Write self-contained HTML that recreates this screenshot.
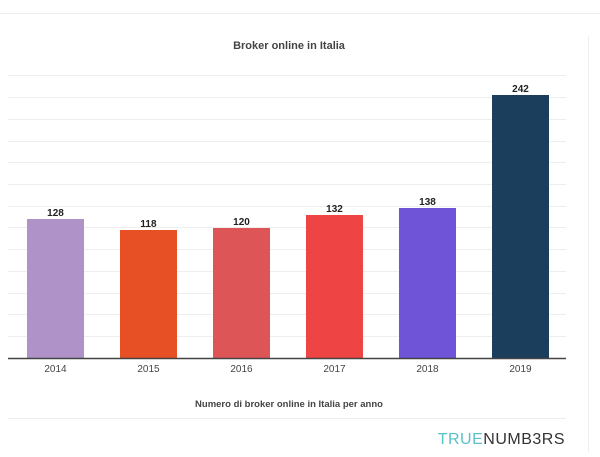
<!DOCTYPE html><html><head><style>body{margin:0;background:#fff;width:600px;height:452px;overflow:hidden;font-family:"Liberation Sans",sans-serif}</style></head><body>
<svg width="600" height="452" xmlns="http://www.w3.org/2000/svg" font-family="Liberation Sans, sans-serif">
<line x1="0" y1="13.5" x2="600" y2="13.5" stroke="#eee"/>
<line x1="588.5" y1="36" x2="588.5" y2="452" stroke="#eee"/>
<text x="289" y="49" text-anchor="middle" font-size="11" font-weight="bold" fill="#444">Broker online in Italia</text>
<g stroke="#eee">
<line x1="8" x2="566" y1="75.5" y2="75.5"/><line x1="8" x2="566" y1="97.5" y2="97.5"/><line x1="8" x2="566" y1="119.5" y2="119.5"/><line x1="8" x2="566" y1="141.5" y2="141.5"/><line x1="8" x2="566" y1="162.5" y2="162.5"/><line x1="8" x2="566" y1="184.5" y2="184.5"/><line x1="8" x2="566" y1="206.5" y2="206.5"/><line x1="8" x2="566" y1="227.5" y2="227.5"/><line x1="8" x2="566" y1="249.5" y2="249.5"/><line x1="8" x2="566" y1="271.5" y2="271.5"/><line x1="8" x2="566" y1="293.5" y2="293.5"/><line x1="8" x2="566" y1="314.5" y2="314.5"/><line x1="8" x2="566" y1="336.5" y2="336.5"/>
</g>
<rect x="27" y="219" width="57" height="139" fill="#af93c8"/>
<rect x="120" y="230" width="57" height="128" fill="#e65024"/>
<rect x="213" y="228" width="57" height="130" fill="#de5558"/>
<rect x="306" y="215" width="57" height="143" fill="#ef4444"/>
<rect x="399" y="208" width="57" height="150" fill="#6f54d8"/>
<rect x="492" y="95" width="57" height="263" fill="#1b3e5c"/>
<g font-size="10" font-weight="bold" fill="#222" text-anchor="middle">
<text x="55.5" y="216">128</text><text x="148.5" y="227">118</text><text x="241.5" y="225">120</text><text x="334.5" y="212">132</text><text x="427.5" y="205">138</text><text x="520.5" y="92">242</text>
</g>
<line x1="8" y1="358.5" x2="566" y2="358.5" stroke="#444" stroke-width="1.5"/>
<g font-size="10" fill="#444" text-anchor="middle">
<text x="55.5" y="372">2014</text><text x="148.5" y="372">2015</text><text x="241.5" y="372">2016</text><text x="334.5" y="372">2017</text><text x="427.5" y="372">2018</text><text x="520.5" y="372">2019</text>
</g>
<text x="289" y="407" text-anchor="middle" font-size="9.5" font-weight="bold" fill="#444">Numero di broker online in Italia per anno</text>
<line x1="8" y1="418.5" x2="566" y2="418.5" stroke="#eee"/>
<text x="565" y="444" text-anchor="end" font-size="16" letter-spacing="0.5"><tspan fill="#5bc0cc">TRUE</tspan><tspan fill="#333">NUMB3RS</tspan></text>
</svg></body></html>
